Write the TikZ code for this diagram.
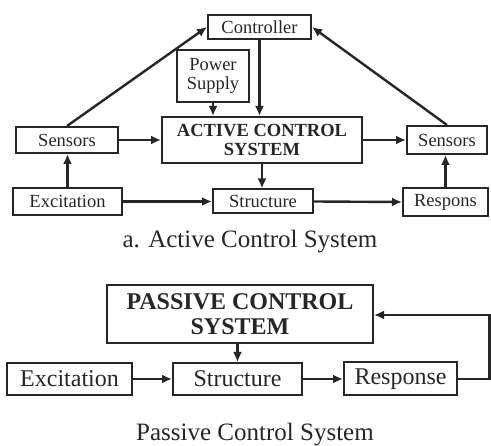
\documentclass[tikz,border=0pt]{standalone}
\usepackage{fontspec}
\setmainfont{Liberation Serif}
\usetikzlibrary{arrows.meta}
\definecolor{ink}{HTML}{262626}
\begin{document}
\begin{tikzpicture}[x=1pt,y=-1pt,
  box/.style={draw=ink,text=ink,line width=2pt,inner sep=0pt,align=center,font=\fontsize{18.5}{19}\selectfont},
  pbox/.style={box,font=\fontsize{24}{25}\selectfont},
  arr/.style={draw=ink,line width=2.4pt,-{Latex[length=10pt,width=9pt]}},
  captext/.style={text=ink,inner sep=0pt,font=\fontsize{25}{26}\selectfont}]
\useasboundingbox (0,0) rectangle (491,446);
% active
\node[box,minimum width=103pt,minimum height=24pt] (ctrl) at (259.5,27) {Controller};
\node[box,minimum width=72pt,minimum height=52pt] (pwr) at (213,76) {Power\\Supply};
\node[box,minimum width=200pt,minimum height=46pt,font=\bfseries\fontsize{18.5}{19}\selectfont] (acs) at (262,140) {ACTIVE CONTROL\\SYSTEM};
\node[box,minimum width=102pt,minimum height=26pt] (sensL) at (67,140) {Sensors};
\node[box,minimum width=109pt,minimum height=27pt] (excA) at (67.5,201.5) {Excitation};
\node[box,minimum width=100pt,minimum height=24pt] (strA) at (263,201.5) {Structure};
\node[box,minimum width=80pt,minimum height=28pt] (sensR) at (447,140) {Sensors};
\node[box,minimum width=85pt,minimum height=28pt] (resp) at (445.5,202) {Respons};
\node[captext] (capA) at (250,242) {a. Active Control System};
\draw[arr] (sensL.north) -- (ctrl.west);
\draw[arr] (sensR.north) -- (ctrl.east);
\draw[arr] (ctrl.south) -- (ctrl.south |- acs.north);
\draw[arr] (pwr.south) -- (pwr.south |- acs.north);
\draw[arr] (sensL.east) -- (acs.west);
\draw[arr] (acs.east) -- (sensR.west);
\draw[arr] (excA.north) -- (excA.north |- sensL.south);
\draw[arr] (excA.east) -- (strA.west);
\draw[arr] (acs.south) -- (acs.south |- strA.north);
\draw[arr] (strA.east) -- (resp.west);
\draw[arr] (resp.north) -- (resp.north |- sensR.south);
% passive
\node[pbox,minimum width=266pt,minimum height=58pt,font=\bfseries\fontsize{24}{25}\selectfont] (pcs) at (240,314) {PASSIVE CONTROL\\SYSTEM};
\node[pbox,minimum width=125pt,minimum height=32pt] (excP) at (69.5,379) {Excitation};
\node[pbox,minimum width=129pt,minimum height=32pt] (strP) at (237.5,379) {Structure};
\node[pbox,minimum width=113pt,minimum height=33pt] (respP) at (400.5,379) {Response};
\node[captext] (capP) at (255,435) {Passive Control System};
\coordinate (fb1) at (489.5,379);
\coordinate (fb2) at (489.5,315);
\draw[arr] (pcs.south -| strP.north) -- (strP.north);
\draw[arr] (excP.east) -- (strP.west);
\draw[arr] (strP.east) -- (respP.west);
\draw[arr] (respP.east) -- (fb1) -- (fb2) -- (fb2 -| pcs.east);
\end{tikzpicture}
\end{document}
